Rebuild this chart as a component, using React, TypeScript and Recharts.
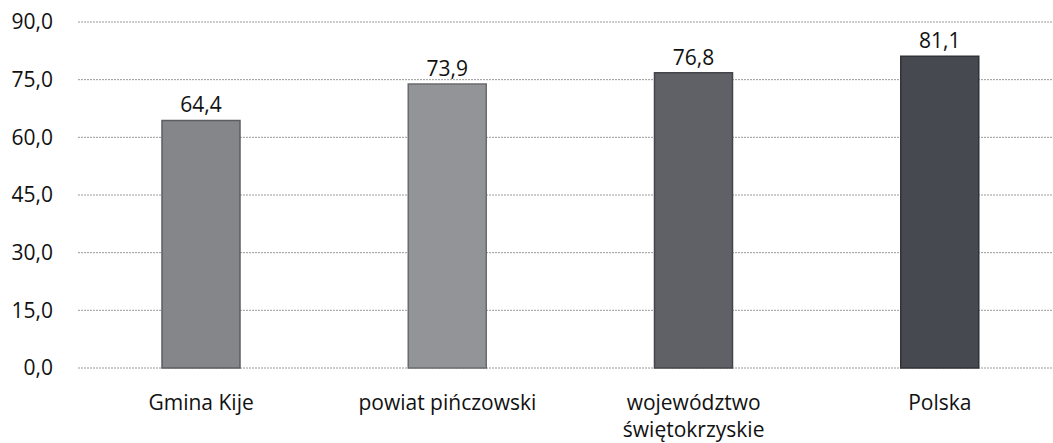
import React from 'react';
import { BarChart, Bar, XAxis, YAxis, CartesianGrid, Cell, LabelList } from 'recharts';

const categories = ['Gmina Kije', 'powiat pińczowski', 'województwo świętokrzyskie', 'Polska'];
const values = [64.4, 73.9, 76.8, 81.1];
const yTicks = [0, 15, 30, 45, 60, 75, 90];

const barFills = ['#858689', '#939497', '#606167', '#46494f'];
const barStrokes = ['#5c5d60', '#6a6b6e', '#44454a', '#303338'];

const data = categories.map((name, i) => ({ name, value: values[i] }));

const fmt = (v: number) => v.toFixed(1).replace('.', ',');
const font = '"Open Sans", sans-serif';
const textColor = '#111';

// wrap long category names into lines of ~18 characters
const wrap = (s: string, max = 18) => {
  const lines: string[] = [];
  let cur = '';
  s.split(' ').forEach((w) => {
    if (cur && (cur + ' ' + w).length > max) {
      lines.push(cur);
      cur = w;
    } else {
      cur = cur ? cur + ' ' + w : w;
    }
  });
  if (cur) lines.push(cur);
  return lines;
};

const CategoryTick = (props: any) => {
  const { x, y, payload } = props;
  const lines = wrap(String(payload.value));
  return (
    <text x={x} y={y} textAnchor="middle" fontSize={21} fontFamily={font} fill={textColor}>
      {lines.map((l, i) => (
        <tspan key={i} x={x} dy={i === 0 ? '0.9em' : 27}>
          {l}
        </tspan>
      ))}
    </text>
  );
};

export default function App() {
  return (
    <div style={{ position: 'absolute', left: 0, top: 0, width: 1053, height: 443, overflow: 'hidden', background: '#fff' }}>
      <BarChart width={1063} height={443} data={data} margin={{ top: 22, right: 0, bottom: 0, left: 0 }}>
        <CartesianGrid vertical={false} stroke="#9a9a9a" strokeDasharray="2 1" />
        <XAxis
          dataKey="name"
          axisLine={false}
          tickLine={false}
          height={75}
          tickMargin={17}
          interval={0}
          tick={<CategoryTick />}
        />
        <YAxis
          domain={[0, 90]}
          ticks={yTicks}
          width={78}
          axisLine={false}
          tickLine={false}
          tickMargin={19}
          tickFormatter={fmt}
          tick={{ fontSize: 21, fontFamily: font, fill: textColor }}
        />
        <Bar dataKey="value" barSize={78} isAnimationActive={false}>
          {data.map((d, i) => (
            <Cell key={d.name} fill={barFills[i]} stroke={barStrokes[i]} strokeWidth={1.5} />
          ))}
          <LabelList
            dataKey="value"
            position="top"
            offset={8}
            formatter={(v: any) => fmt(Number(v))}
            style={{ fontSize: 21, fontFamily: font, fill: textColor }}
          />
        </Bar>
      </BarChart>
    </div>
  );
}
